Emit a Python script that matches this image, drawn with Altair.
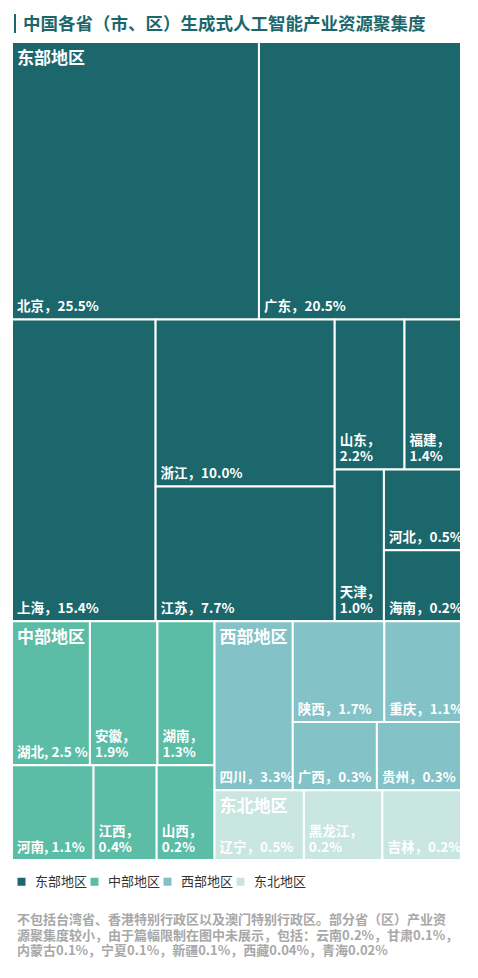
import altair as alt
import pandas as pd

FONT = "Noto Sans CJK SC"

# ---------------- data ----------------
regions = ["东部地区", "中部地区", "西部地区", "东北地区"]
region_colors = ["#1b676b", "#5bbda5", "#83c2c7", "#c9e6e1"]

east_names = ["北京", "广东", "上海", "浙江", "江苏", "山东", "福建", "天津", "河北", "海南"]
east_values = [25.5, 20.5, 15.4, 10.0, 7.7, 2.2, 1.4, 1.0, 0.5, 0.2]
central_names = ["湖北", "安徽", "湖南", "河南", "江西", "山西"]
central_values = [2.5, 1.9, 1.3, 1.1, 0.4, 0.2]
west_names = ["四川", "陕西", "重庆", "广西", "贵州"]
west_values = [3.3, 1.7, 1.1, 0.3, 0.3]
ne_names = ["辽宁", "黑龙江", "吉林"]
ne_values = [0.5, 0.2, 0.2]

# labels as printed in the source (two use a half-width comma)
label_overrides = {"湖北": "湖北, 2.5 %", "河南": "河南, 1.1%"}

title_text = "中国各省（市、区）生成式人工智能产业资源聚集度"
note_lines = [
    "不包括台湾省、香港特别行政区以及澳门特别行政区。部分省（区）产业资",
    "源聚集度较小，由于篇幅限制在图中未展示，包括：云南0.2%，甘肃0.1%，",
    "内蒙古0.1%，宁夏0.1%，新疆0.1%，西藏0.04%，青海0.02%",
]

# treemap nesting: "h" = children side by side, "v" = children stacked
layout = ("v", [
    ("v", [("h", ["北京", "广东"]),
           ("h", ["上海", ("v", ["浙江", "江苏"]),
                  ("v", [("h", ["山东", "福建"]),
                         ("h", ["天津", ("v", ["河北", "海南"])])])])]),
    ("h", [("v", [("h", ["湖北", "安徽", "湖南"]), ("h", ["河南", "江西", "山西"])]),
           ("v", [("h", ["四川", ("v", [("h", ["陕西", "重庆"]), ("h", ["广西", "贵州"])])]),
                  ("h", ["辽宁", "黑龙江", "吉林"])])]),
])

# minimum display weight so that small provinces stay legible
MIN_WEIGHT = 2.0

W, H = 449, 818
LABEL_SIZE = 13.5
LINE_H = 16

# ---------------- layout computation ----------------
value = {}
region_of = {}
for reg, names, vals in [(regions[0], east_names, east_values),
                         (regions[1], central_names, central_values),
                         (regions[2], west_names, west_values),
                         (regions[3], ne_names, ne_values)]:
    for n, v in zip(names, vals):
        value[n] = v
        region_of[n] = reg


def node_weight(node):
    if isinstance(node, str):
        return value[node] + MIN_WEIGHT
    return sum(node_weight(c) for c in node[1])


def place(node, x0, y0, x1, y1, out):
    if isinstance(node, str):
        out[node] = (x0, y0, x1, y1)
        return
    orient, kids = node
    total = node_weight(node)
    pos = x0 if orient == "h" else y0
    for k in kids:
        frac = node_weight(k) / total
        if orient == "h":
            nxt = pos + (x1 - x0) * frac
            place(k, pos, y0, nxt, y1, out)
        else:
            nxt = pos + (y1 - y0) * frac
            place(k, x0, pos, x1, nxt, out)
        pos = nxt


boxes = {}
place(layout, 0.0, 0.0, 1.0, 1.0, boxes)


def text_w(s, size=LABEL_SIZE):
    w = 0
    for ch in s:
        if ord(ch) > 0x2E80:
            w += size
        elif ch in ".,":
            w += 0.3 * size
        elif ch == "%":
            w += 0.85 * size
        elif ch == " ":
            w += 0.25 * size
        else:
            w += 0.56 * size
    return w


rows = []
for n, (x0, y0, x1, y1) in boxes.items():
    lab = label_overrides.get(n, f"{n}，{value[n]:.1f}%")
    nlines = 1
    if 5 + text_w(lab) > (x1 - x0) * W:
        sep = "，" if "，" in lab else ","
        head, tail = lab.split(sep, 1)
        lab = head + sep + "\n" + tail.strip()
        nlines = 2
    # anchor of the first text line so that the last line sits at the cell bottom
    ly = y1 - (nlines - 1) * LINE_H / H
    rows.append(dict(name=n, region=region_of[n], value=value[n], label=lab,
                     x0=x0, x1=x1, y0=y0, y1=y1, ly=ly))
cells = pd.DataFrame(rows)

reg_df = (cells.groupby("region", sort=False)
          .agg(x0=("x0", "min"), y0=("y0", "min")).reset_index())

xs = alt.Scale(domain=[0, 1], range=[0, W], nice=False, zero=False)
ys = alt.Scale(domain=[0, 1], range=[0, H], nice=False, zero=False)

rects = alt.Chart(cells).mark_rect(stroke="white", strokeWidth=2).encode(
    x=alt.X("x0:Q", scale=xs, axis=None),
    x2="x1:Q",
    y=alt.Y("y0:Q", scale=ys, axis=None),
    y2="y1:Q",
    color=alt.Color("region:N",
                    scale=alt.Scale(domain=regions, range=region_colors),
                    legend=alt.Legend(orient="none", legendX=3, legendY=833,
                                      direction="horizontal", title=None,
                                      symbolType="square", symbolSize=64,
                                      symbolStrokeWidth=0, labelFont=FONT,
                                      labelFontSize=13, labelColor="#333333",
                                      labelOffset=7, columnPadding=0, padding=0)),
)

labels = alt.Chart(cells).mark_text(
    align="left", baseline="bottom", dx=5, dy=-5, font=FONT,
    fontSize=LABEL_SIZE, fontWeight="bold", color="white",
    lineBreak="\n", lineHeight=LINE_H,
).encode(x=alt.X("x0:Q", scale=xs), y=alt.Y("ly:Q", scale=ys), text="label:N")

reg_labels = alt.Chart(reg_df).mark_text(
    align="left", baseline="top", dx=5, dy=9, font=FONT, fontSize=17,
    fontWeight="bold", color="white",
).encode(x=alt.X("x0:Q", scale=xs), y=alt.Y("y0:Q", scale=ys), text="region:N")

head_df = pd.DataFrame({"t": [title_text]})
bar = alt.Chart(head_df).mark_rule(color="#1b676b", strokeWidth=2).encode(
    x=alt.value(3), y=alt.value(-28), y2=alt.value(-9))
title = alt.Chart(head_df).mark_text(
    align="left", baseline="alphabetic", font=FONT, fontSize=17.5,
    fontWeight="bold", color="#1b676b",
).encode(x=alt.value(11), y=alt.value(-12), text="t:N")

note = alt.Chart(pd.DataFrame({"t": ["\n".join(note_lines)]})).mark_text(
    align="left", baseline="alphabetic", font=FONT, fontSize=13,
    fontWeight="bold", color="#a8a8a8", lineBreak="\n", lineHeight=15.5,
).encode(x=alt.value(5), y=alt.value(882), text="t:N")

chart = alt.layer(rects, labels, reg_labels, bar, title, note).properties(
    width=W, height=H,
    padding={"left": 12, "top": 42, "right": 17, "bottom": 118},
    autosize=alt.AutoSizeParams(type="none"),
).configure_view(stroke=None)

chart.save("out.html", embed_options={"renderer": "svg", "actions": False})
